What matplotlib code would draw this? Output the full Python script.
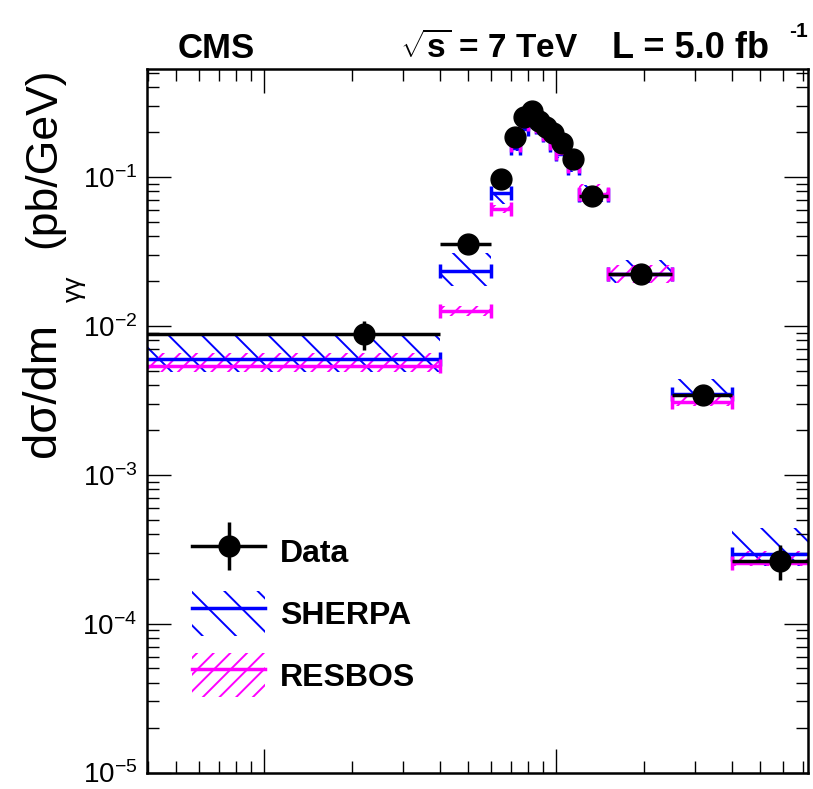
import numpy as np
import matplotlib
matplotlib.use("Agg")
import matplotlib.pyplot as plt
from matplotlib.patches import Patch
from matplotlib.lines import Line2D

plt.rcParams['font.family'] = ['Liberation Sans', 'DejaVu Sans']
plt.rcParams['mathtext.fontset'] = 'custom'
plt.rcParams['mathtext.rm'] = 'Liberation Sans'
plt.rcParams['mathtext.it'] = 'Liberation Sans:italic'
plt.rcParams['mathtext.bf'] = 'Liberation Sans:bold'
plt.rcParams['hatch.linewidth'] = 1.4

# m_gg bins (GeV)
bin_lo = [0, 40, 60, 70, 75, 80, 85, 90, 95, 100, 110, 120, 150, 250, 400]
bin_hi = [40, 60, 70, 75, 80, 85, 90, 95, 100, 110, 120, 150, 250, 400, 800]

# measured cross section (pb/GeV)
data_x = [22, 50, 64.5, 72.5, 77.5, 82.5, 87.3, 92.3, 97.3, 104.5, 114.5, 133, 195, 318, 585]
data_y = [0.0088, 0.0355, 0.0965, 0.186, 0.254, 0.275, 0.238, 0.215, 0.197, 0.169,
          0.1315, 0.0745, 0.0222, 0.00344, 0.000265]
data_err = [0.0019, 0.0015, 0.004, 0.008, 0.011, 0.012, 0.010, 0.009, 0.008, 0.007,
            0.006, 0.0035, 0.0012, 0.0003, 0.00007]

# SHERPA prediction and band
sherpa = [0.0060, 0.0235, 0.0778, 0.157, 0.21, 0.235, 0.215, 0.19, 0.165, 0.142,
          0.115, 0.0757, 0.0222, 0.00348, 0.000295]
sherpa_hi = [0.0087, 0.031, 0.09, 0.165, 0.22, 0.245, 0.225, 0.2, 0.173, 0.15,
             0.122, 0.088, 0.0277, 0.0044, 0.00044]
sherpa_lo = [0.0049, 0.0185, 0.066, 0.15, 0.2, 0.225, 0.205, 0.18, 0.157, 0.134,
             0.108, 0.068, 0.0194, 0.0029, 0.000245]

# RESBOS prediction and band
resbos = [0.0054, 0.01265, 0.0607, 0.165, 0.225, 0.24, 0.22, 0.195, 0.17, 0.145,
          0.118, 0.077, 0.0222, 0.0031, 0.000257]
resbos_hi = [0.0066, 0.0136, 0.065, 0.172, 0.235, 0.25, 0.23, 0.204, 0.178, 0.152,
             0.124, 0.09, 0.0256, 0.0035, 0.000307]
resbos_lo = [0.0049, 0.0117, 0.057, 0.158, 0.215, 0.23, 0.21, 0.186, 0.162, 0.138,
             0.112, 0.068, 0.0194, 0.0029, 0.000245]

lo = np.maximum(np.array(bin_lo, float), 1.0)
hi = np.array(bin_hi, float)
xc = np.sqrt(lo * hi)

fig = plt.figure(figsize=(8.13, 7.89), dpi=100)
ax = fig.add_axes([147 / 813, 1 - 772.5 / 789, 661 / 813, 703.8 / 789])
ax.set_xscale('log')
ax.set_yscale('log')


def draw_model(vals, vlo, vhi, color, hatch):
    vlo = np.array(vlo)
    vhi = np.array(vhi)
    ax.bar(lo, vhi - vlo, width=hi - lo, bottom=vlo, align='edge', fill=False,
           hatch=hatch, edgecolor=color, linewidth=0)
    ax.errorbar(xc, vals, xerr=[xc - lo, hi - xc], fmt='none', ecolor=color,
                elinewidth=2.5, capsize=5, capthick=2.5)


draw_model(sherpa, sherpa_lo, sherpa_hi, 'blue', '\\')
draw_model(resbos, resbos_lo, resbos_hi, 'magenta', '//')

dx = np.array(data_x)
ax.errorbar(dx, data_y, xerr=[dx - lo, hi - dx], yerr=data_err, fmt='o',
            color='black', ms=15, elinewidth=2.5, capsize=0, zorder=5)

ax.set_xlim(3.97, 729)
ax.set_ylim(1e-5, 0.533)

ax.tick_params(which='both', direction='in', top=True, right=True,
               labelbottom=False, width=1.0, labelsize=20, pad=7)
ax.tick_params(which='major', length=17)
ax.tick_params(which='minor', length=8.5)
for sp in ax.spines.values():
    sp.set_linewidth(1.8)

# legend
h_data = (Line2D([], [], color='black', lw=2.5),
          Line2D([], [], color='black', marker='|', ms=34, mew=2.5, ls='none'),
          Line2D([], [], color='black', marker='o', ms=15, ls='none'))
h_sherpa = (Patch(facecolor='none', edgecolor='blue', hatch='\\', linewidth=0),
            Line2D([], [], color='blue', lw=2.5))
h_resbos = (Patch(facecolor='none', edgecolor='magenta', hatch='//', linewidth=0),
            Line2D([], [], color='magenta', lw=2.5))
ax.legend([h_data, h_sherpa, h_resbos], ['Data', 'SHERPA', 'RESBOS'],
          loc='upper left', bbox_to_anchor=(0.068, 0.345), frameon=False,
          borderpad=0, borderaxespad=0, handlelength=2.3, handleheight=1.75,
          labelspacing=0.55, handletextpad=0.45,
          prop={'size': 23, 'weight': 'bold'})

# y axis title in pieces
fig.text(55 / 813, 1 - 457 / 789, 'dσ/dm', rotation=90, rotation_mode='anchor',
         ha='left', va='baseline', fontsize=34)
fig.text(81 / 813, 1 - 302 / 789, 'γγ', rotation=90, rotation_mode='anchor',
         ha='left', va='baseline', fontsize=19)
fig.text(55 / 813, 1 - 248 / 789, '(pb/GeV)', rotation=90, rotation_mode='anchor',
         ha='left', va='baseline', fontsize=32)

fig.text(178 / 813, 1 - 58 / 789, 'CMS', fontsize=25, fontweight='bold',
         ha='left', va='baseline')
fig.text(400 / 813, 1 - 58 / 789, r'$\sqrt{\mathbf{s}}$ = 7 TeV', fontsize=24,
         fontweight='bold', ha='left', va='baseline')
fig.text(612 / 813, 1 - 58 / 789, 'L = 5.0 fb', fontsize=26,
         fontweight='bold', ha='left', va='baseline')
fig.text(789 / 813, 1 - 37 / 789, '-1', fontsize=15,
         fontweight='bold', ha='left', va='baseline')

fig.savefig('out.png', dpi=100)
